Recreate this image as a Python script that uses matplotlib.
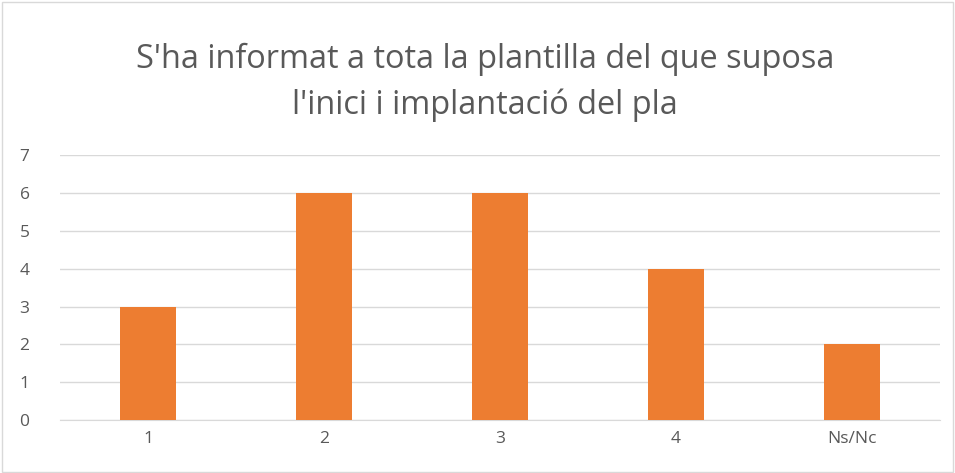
import numpy as np
import matplotlib
matplotlib.use('Agg')
import matplotlib.pyplot as plt

categories = ['1', '2', '3', '4', 'Ns/Nc']
values = [3, 6, 6, 4, 2]
title = "S'ha informat a tota la plantilla del que suposa\nl'inici i implantació del pla"

plt.rcParams['font.family'] = ['Open Sans', 'DejaVu Sans']

fig = plt.figure(figsize=(9.55, 4.73), dpi=100)
ax = fig.add_axes([0.063, 0.112, 0.921, 0.56])

x = np.arange(len(categories))
ax.bar(x, values, width=0.32, color='#ED7D31', zorder=3)

ax.set_xlim(-0.5, len(categories) - 0.5)
ax.set_ylim(0, 7)
ax.set_yticks(range(0, 8))
ax.set_xticks(x)
ax.set_xticklabels(categories)
ax.tick_params(axis='both', length=0, labelsize=12.5, colors='#595959')
ax.tick_params(axis='y', pad=22)
ax.tick_params(axis='x', pad=8)
ax.yaxis.grid(True, color='#D9D9D9', linewidth=1, zorder=0)
for s in ['top', 'right', 'left']:
    ax.spines[s].set_visible(False)
ax.spines['bottom'].set_color('#D9D9D9')

fig.text(0.508, 0.826, title, ha='center', va='center', fontsize=23.4,
         color='#595959', linespacing=1.5)

fig.patches.append(plt.Rectangle((0.002, 0.002), 0.996, 0.994, transform=fig.transFigure,
                                 fill=False, edgecolor='#D9D9D9', linewidth=1))

fig.savefig('out.png', dpi=100)
